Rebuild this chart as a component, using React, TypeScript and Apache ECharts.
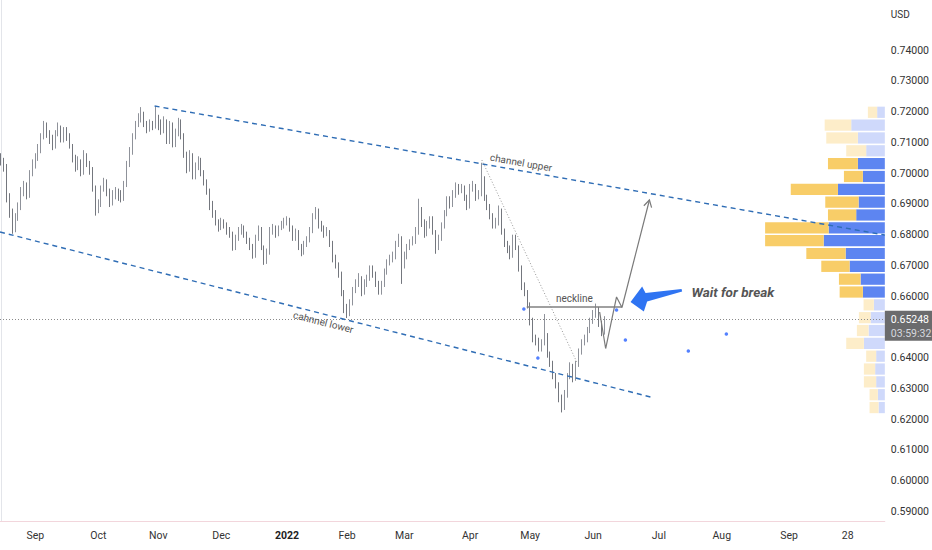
import React, { useEffect, useRef } from "react";
import * as echarts from "echarts";

// ---- NZDUSD daily (bar index 0 = 16 Aug 2021) ----
const firstOpen = 0.705;
const closes = [
  0.7040,0.7020,0.6920,0.6870,0.6815,0.6860,0.6890,0.6940,0.6960,0.6930,
  0.7000,0.7030,0.7050,0.7080,0.7120,0.7160,0.7130,0.7110,0.7085,0.7130,
  0.7150,0.7110,0.7140,0.7120,0.7090,0.7050,0.7020,0.7040,0.7000,0.7060,
  0.7030,0.7010,0.6950,0.6880,0.6900,0.6950,0.6970,0.6940,0.6900,0.6930,
  0.6940,0.6930,0.6920,0.6960,0.7030,0.7070,0.7120,0.7160,0.7180,0.7190,
  0.7160,0.7140,0.7160,0.7150,0.7170,0.7160,0.7140,0.7170,0.7100,0.7160,
  0.7090,0.7130,0.7170,0.7120,0.7060,0.7010,0.7060,0.6990,0.7020,0.7040,
  0.7000,0.6970,0.6940,0.6900,0.6870,0.6840,0.6820,0.6840,0.6830,0.6810,
  0.6800,0.6760,0.6790,0.6810,0.6820,0.6800,0.6780,0.6760,0.6730,0.6790,
  0.6820,0.6760,0.6715,0.6740,0.6810,0.6820,0.6800,0.6820,0.6830,0.6840,
  0.6850,0.6820,0.6790,0.6810,0.6760,0.6740,0.6770,0.6780,0.6810,0.6860,
  0.6880,0.6830,0.6820,0.6800,0.6810,0.6770,0.6720,0.6700,0.6670,0.6610,
  0.6560,0.6540,0.6580,0.6620,0.6640,0.6660,0.6610,0.6640,0.6660,0.6690,
  0.6670,0.6640,0.6610,0.6640,0.6680,0.6710,0.6720,0.6730,0.6770,0.6790,
  0.6700,0.6730,0.6760,0.6770,0.6780,0.6810,0.6880,0.6840,0.6800,0.6830,
  0.6850,0.6810,0.6760,0.6790,0.6830,0.6870,0.6910,0.6900,0.6930,0.6950,
  0.6940,0.6950,0.6920,0.6890,0.6950,0.6960,0.6920,0.6930,0.6980,0.6920,
  0.6890,0.6860,0.6830,0.6840,0.6880,0.6810,0.6770,0.6750,0.6730,0.6790,
  0.6760,0.6690,0.6630,0.6610,0.6570,0.6520,0.6460,0.6450,0.6430,0.6450,
  0.6470,0.6410,0.6380,0.6340,0.6310,0.6270,0.6240,0.6280,0.6340,0.6370,
  0.6330,0.6380,0.6420,0.6450,0.6460,0.6490,0.6520,0.6540,0.6560,0.6510,
  0.6480,0.6525,
];
const highs = [
  0.7065,0.7050,0.7030,0.6935,0.6885,0.6870,0.6905,0.6955,0.6975,0.6970,
  0.7010,0.7045,0.7065,0.7095,0.7130,0.7170,0.7165,0.7140,0.7125,0.7140,
  0.7165,0.7155,0.7150,0.7150,0.7130,0.7095,0.7060,0.7055,0.7045,0.7075,
  0.7065,0.7040,0.7020,0.6960,0.6915,0.6960,0.6985,0.6980,0.6950,0.6945,
  0.6955,0.6950,0.6945,0.6975,0.7040,0.7085,0.7130,0.7170,0.7195,0.7215,
  0.7200,0.7170,0.7175,0.7170,0.7217,0.7190,0.7175,0.7185,0.7175,0.7170,
  0.7165,0.7145,0.7180,0.7175,0.7130,0.7070,0.7075,0.7065,0.7035,0.7055,
  0.7050,0.7010,0.6980,0.6950,0.6910,0.6880,0.6850,0.6855,0.6850,0.6840,
  0.6825,0.6810,0.6800,0.6825,0.6835,0.6830,0.6810,0.6790,0.6770,0.6800,
  0.6830,0.6825,0.6765,0.6755,0.6825,0.6835,0.6830,0.6830,0.6845,0.6855,
  0.6860,0.6855,0.6830,0.6820,0.6815,0.6770,0.6780,0.6795,0.6825,0.6870,
  0.6890,0.6885,0.6845,0.6830,0.6825,0.6815,0.6780,0.6735,0.6710,0.6680,
  0.6620,0.6575,0.6590,0.6630,0.6655,0.6675,0.6665,0.6655,0.6670,0.6700,
  0.6700,0.6680,0.6650,0.6650,0.6690,0.6720,0.6735,0.6745,0.6780,0.6803,
  0.6795,0.6745,0.6770,0.6785,0.6795,0.6825,0.6917,0.6890,0.6850,0.6845,
  0.6860,0.6860,0.6815,0.6800,0.6840,0.6880,0.6925,0.6925,0.6945,0.6970,
  0.6965,0.6965,0.6960,0.6930,0.6965,0.6975,0.6965,0.6945,0.7034,0.6990,
  0.6930,0.6900,0.6870,0.6855,0.6895,0.6885,0.6820,0.6780,0.6765,0.6800,
  0.6800,0.6765,0.6700,0.6645,0.6620,0.6580,0.6530,0.6475,0.6465,0.6460,
  0.6542,0.6480,0.6420,0.6390,0.6350,0.6320,0.6280,0.6295,0.6350,0.6385,
  0.6380,0.6390,0.6430,0.6460,0.6475,0.6500,0.6530,0.6555,0.6576,0.6565,
  0.6520,0.6535,
];
const lows = [
  0.7025,0.7005,0.6905,0.6855,0.6803,0.6808,0.6845,0.6880,0.6925,0.6915,
  0.6920,0.6990,0.7015,0.7040,0.7065,0.7110,0.7115,0.7095,0.7075,0.7080,
  0.7120,0.7100,0.7100,0.7105,0.7080,0.7035,0.7005,0.7010,0.6990,0.6995,
  0.7020,0.6995,0.6940,0.6862,0.6870,0.6890,0.6940,0.6925,0.6890,0.6895,
  0.6915,0.6910,0.6905,0.6910,0.6955,0.7020,0.7060,0.7110,0.7150,0.7165,
  0.7150,0.7130,0.7135,0.7140,0.7145,0.7140,0.7125,0.7130,0.7095,0.7095,
  0.7084,0.7085,0.7120,0.7110,0.7050,0.7000,0.7005,0.6980,0.6980,0.7010,
  0.6990,0.6960,0.6930,0.6880,0.6855,0.6830,0.6810,0.6815,0.6820,0.6800,
  0.6790,0.6748,0.6750,0.6780,0.6800,0.6790,0.6770,0.6750,0.6722,0.6725,
  0.6780,0.6750,0.6702,0.6705,0.6735,0.6800,0.6790,0.6795,0.6815,0.6820,
  0.6830,0.6810,0.6780,0.6780,0.6750,0.6730,0.6735,0.6760,0.6775,0.6805,
  0.6850,0.6820,0.6810,0.6790,0.6795,0.6760,0.6710,0.6690,0.6660,0.6600,
  0.6545,0.6529,0.6535,0.6570,0.6610,0.6630,0.6600,0.6605,0.6630,0.6650,
  0.6660,0.6630,0.6605,0.6605,0.6630,0.6670,0.6700,0.6710,0.6720,0.6760,
  0.6640,0.6690,0.6720,0.6750,0.6765,0.6770,0.6800,0.6825,0.6790,0.6795,
  0.6820,0.6800,0.6738,0.6750,0.6780,0.6820,0.6860,0.6885,0.6890,0.6920,
  0.6930,0.6935,0.6910,0.6880,0.6885,0.6940,0.6910,0.6915,0.6925,0.6910,
  0.6880,0.6850,0.6820,0.6820,0.6830,0.6800,0.6760,0.6740,0.6720,0.6725,
  0.6750,0.6680,0.6620,0.6600,0.6560,0.6505,0.6450,0.6440,0.6420,0.6420,
  0.6440,0.6400,0.6370,0.6330,0.6300,0.6255,0.6222,0.6230,0.6270,0.6330,
  0.6320,0.6325,0.6370,0.6410,0.6440,0.6450,0.6480,0.6510,0.6530,0.6500,
  0.6470,0.6475,
];

const lastPrice = 0.65248;
const countdown = "03:59:32";

// axis ticks (0.65000 sits under the last-price box in the reference)
const priceTicks = [0.59,0.60,0.61,0.62,0.63,0.64,0.66,0.67,0.68,0.69,0.70,0.71,0.72,0.73,0.74];
const monthLabels = ["Sep","Oct","Nov","Dec","2022","Feb","Mar","Apr","May","Jun","Jul","Aug","Sep","28"];
const monthBars = [12,34,55,77,100,121,141,164,185,207,230,252,275.5,296];

// drawings: [barIndex, price]
const channelUpper = [[53.7,0.72185],[309.0,0.6799]];
const channelLower = [[-0.35,0.68088],[227.1,0.62722]];
const dottedTrend = [[168.1,0.70429],[201.3,0.6386]];
const neckline = [[183.8,0.6565],[217.1,0.6565]];
const projection = [[209.3,0.65486],[211.4,0.64299],[215.2,0.65974],[217.1,0.65633],[226.7,0.69129]];
const blueDots = [[182.8,0.65584],[187.7,0.63991],[215.2,0.65551],[218.3,0.64576],[240.3,0.64218],[253.6,0.64771]];
const arrowTip = [220.1,0.65811];
const noteAnchor = [241.4,0.6614];
const noteText = "Wait for break";

// volume profile (bottom row first)
const vpLow = 0.6217;
const vpHigh = 0.7219;
const vpUp = [63,70,87,97,87,210,163,143,110,220,243,353,393,613,563,287,263,470,220,270,187,270,337,77];
const vpDown = [90,83,123,113,100,177,117,117,103,233,217,284,394,587,637,283,334,473,190,300,200,317,266,93];
const vaFrom = 9;
const vaTo = 19;

const X_MIN = -0.35, X_MAX = 309.0;
const Y_MIN = 0.58689, Y_MAX = 0.75633;
const VP_MAX = 8870;
const FONT = "Roboto, sans-serif";

export default function App() {
  const ref = useRef<HTMLDivElement>(null);
  useEffect(() => {
    const chart = echarts.init(ref.current!, null, { renderer: "svg" });
    const candles = closes.map((c, i) => {
      const o = i === 0 ? firstOpen : closes[i - 1];
      return [i, o, c, lows[i], highs[i]];
    });
    const bin = (vpHigh - vpLow) / vpUp.length;
    const vpData = vpUp.map((u, k) => [vpLow + k * bin, vpLow + (k + 1) * bin, u, vpDown[k], k >= vaFrom && k <= vaTo ? 1 : 0]);

    const seg = (pts: number[][], lineStyle: any, label?: any) => [
      { coord: pts[0], lineStyle, label: label || { show: false } },
      { coord: pts[1] },
    ];
    const annLabel = (text: string, pos: string) => ({
      show: true, formatter: text, position: pos, color: "#555", fontSize: 10,
      fontFamily: FONT, distance: 3,
    });
    const blueDash = { color: "#2f6db5", width: 1.4, type: [5, 4] };

    chart.setOption({
      animation: false,
      backgroundColor: "#ffffff",
      grid: { left: 0, right: 45, top: 0, bottom: 29, containLabel: false },
      xAxis: [
        {
          type: "value", min: X_MIN, max: X_MAX,
          axisLine: { show: true, lineStyle: { color: "#f2d6dc", width: 1 } },
          axisTick: { show: false }, splitLine: { show: false },
          axisLabel: {
            customValues: monthBars, margin: 9, color: "#333", fontSize: 10.5, fontFamily: FONT,
            formatter: (v: number) => {
              const k = monthBars.indexOf(v);
              const t = k >= 0 ? monthLabels[k] : "";
              return t === "2022" ? "{b|2022}" : t;
            },
            rich: { b: { fontWeight: "bold", color: "#222", fontSize: 10.5, fontFamily: FONT } },
          },
        },
        { type: "value", inverse: true, min: 0, max: VP_MAX, show: false },
      ],
      yAxis: {
        type: "value", position: "right", min: Y_MIN, max: Y_MAX, scale: true,
        axisLine: { show: true, lineStyle: { color: "#e3e5ea" } },
        axisTick: { show: false }, splitLine: { show: false },
        axisLabel: {
          customValues: priceTicks, margin: 6, color: "#333", fontSize: 10.5, fontFamily: FONT,
          formatter: (v: number) => v.toFixed(5),
        },
      },
      series: [
        {
          type: "custom", xAxisIndex: 1, yAxisIndex: 0, z: 1, silent: true,
          encode: { x: [2, 3], y: [0, 1] },
          data: vpData,
          renderItem: (params: any, api: any) => {
            const lo = api.value(0), hi = api.value(1), up = api.value(2), dn = api.value(3), va = api.value(4);
            const r = api.coord([0, hi]);
            const m = api.coord([up, lo]);
            const l = api.coord([up + dn, lo]);
            const top = r[1] + 0.8, h = m[1] - r[1] - 1.6;
            return {
              type: "group",
              children: [
                { type: "rect", shape: { x: m[0], y: top, width: r[0] - m[0], height: h }, style: { fill: va ? "#5d85f1" : "#cfd9fb" } },
                { type: "rect", shape: { x: l[0], y: top, width: m[0] - l[0], height: h }, style: { fill: va ? "#f8cd68" : "#fdedc9" } },
              ],
            };
          },
        },
        {
          type: "candlestick", xAxisIndex: 0, yAxisIndex: 0, z: 3, barWidth: 1.3,
          encode: { x: 0, y: [1, 2, 3, 4] },
          data: candles,
          itemStyle: { color: "#aeb1b8", color0: "#74777e", borderColor: "#8f929a", borderColor0: "#74777e", borderWidth: 1 },
          markLine: {
            silent: true, symbol: ["none", "none"], z: 5,
            label: { show: false },
            data: [
              [{ yAxis: lastPrice, x: 0, lineStyle: { color: "#8a8a8a", width: 1, type: [1, 2] }, label: { show: false } }, { yAxis: lastPrice, x: 887 }],
              seg(channelUpper, blueDash, annLabel("channel upper", "insideMiddleTop")),
              seg(channelLower, blueDash, annLabel("cahnnel lower", "insideMiddleBottom")),
              seg(dottedTrend, { color: "#9a9a9a", width: 1, type: [1, 2] }),
              seg(neckline, { color: "#808080", width: 1.6, type: "solid" }, annLabel("neckline", "insideMiddleTop")),
            ],
          },
        },
        {
          type: "line", xAxisIndex: 0, yAxisIndex: 0, z: 6, symbol: "none", silent: true,
          data: projection, lineStyle: { color: "#7a7a7a", width: 1.2 },
        },
        {
          type: "scatter", xAxisIndex: 0, yAxisIndex: 0, z: 6, silent: true,
          symbolSize: 3.5, itemStyle: { color: "#2962ff" }, data: blueDots,
        },
      ],
    });

    const px = (p: number[]) => chart.convertToPixel({ xAxisIndex: 0, yAxisIndex: 0 }, p) as number[];
    const tip = px(arrowTip);
    const rel = [[0, 0], [11.6, -15.6], [15, -9], [51, -13], [51.6, -10.4], [16.6, -0.6], [13.3, 9.4]];
    const e = px(projection[projection.length - 1]);
    const s = px(projection[projection.length - 2]);
    const ang = Math.atan2(e[1] - s[1], e[0] - s[0]);
    const L = 8, a = Math.PI / 6;
    const h1 = [e[0] - L * Math.cos(ang - a), e[1] - L * Math.sin(ang - a)];
    const h2 = [e[0] - L * Math.cos(ang + a), e[1] - L * Math.sin(ang + a)];
    const note = px(noteAnchor);
    const yp = (chart.convertToPixel({ yAxisIndex: 0 }, lastPrice) as unknown) as number;
    const xr = (chart.convertToPixel({ xAxisIndex: 0 }, X_MAX) as unknown) as number;

    chart.setOption({
      graphic: [
        { type: "polygon", z: 100, silent: true, shape: { points: rel.map(([dx, dy]) => [tip[0] + dx, tip[1] + dy]) }, style: { fill: "#2f74f2" } },
        { type: "polyline", z: 100, silent: true, shape: { points: [h1, e, h2] }, style: { stroke: "#7a7a7a", lineWidth: 1.2, fill: null } },
        {
          type: "text", z: 100, silent: true, x: note[0], y: note[1],
          style: { text: noteText, fill: "#555", font: "italic bold 13.5px Roboto, sans-serif", textAlign: "left", textVerticalAlign: "middle" },
        },
        { type: "rect", z: 100, silent: true, shape: { x: xr, y: yp - 8.5, width: 932 - xr, height: 30 }, style: { fill: "#6b6b6d" } },
        {
          type: "text", z: 101, silent: true, x: xr + 6, y: yp,
          style: { text: lastPrice.toFixed(5), fill: "#ffffff", font: "10.5px " + FONT, textAlign: "left", textVerticalAlign: "middle" },
        },
        {
          type: "text", z: 101, silent: true, x: xr + 6, y: yp + 14,
          style: { text: countdown, fill: "#d6d8de", font: "10.5px " + FONT, textAlign: "left", textVerticalAlign: "middle" },
        },
        {
          type: "text", z: 101, silent: true, x: xr + 6, y: 14,
          style: { text: "USD", fill: "#333", font: "10px " + FONT, textAlign: "left", textVerticalAlign: "middle" },
        },
      ],
    });
    return () => chart.dispose();
  }, []);
  return <div ref={ref} style={{ position: "fixed", left: 0, top: 0, width: 932, height: 550, background: "#fff" }} />;
}
